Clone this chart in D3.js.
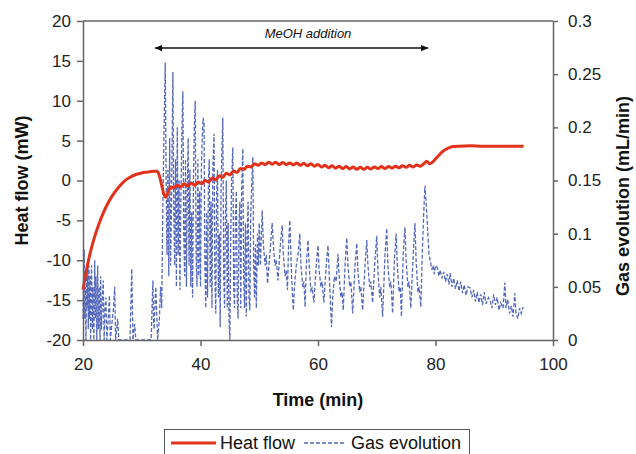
<!DOCTYPE html>
<html>
<head>
<meta charset="utf-8">
<script src="https://cdn.jsdelivr.net/npm/d3@7"></script>
<style>
  body { margin: 0; background: #fff; }
  svg { font-family: "Liberation Sans", Arial, sans-serif; }
  .axis path, .axis line { stroke: #666; stroke-width: 1.5; }
  .axis text { font-size: 17px; fill: #222; }
  .title { font-size: 18px; font-weight: bold; fill: #111; }
</style>
</head>
<body>
<div id="chart"></div>
<script>
var width = 636;
var height = 454;

// time (min), heat flow (mW)
var heatFlow = [
  [20,-13.7],[20.5,-11.6],[21,-9.8],[21.5,-8.3],[22,-7],[22.5,-5.9],[23,-4.9],[23.5,-4],[24,-3.2],
  [25,-1.9],[26,-0.9],[27,-0.1],[28,0.4],[29,0.75],[30,0.95],[31,1.05],[32,1.15],[32.6,1.15],
  [33,0.6],[33.4,-0.6],[33.8,-1.8],[34.1,-2.1],[34.5,-1.4],[35,-0.8],[35.5,-0.9],[36,-0.6],
  [36.6,-0.8],[37.2,-0.4],[37.8,-0.7],[38.4,-0.3],[39,-0.6],[39.6,-0.2],[40.2,-0.4],[40.8,0],
  [41.4,-0.2],[42,0.3],[42.6,0.1],[43.2,0.6],[43.8,0.4],[44.4,0.9],[45,0.7],[45.6,1.2],[46.2,1.0],
  [46.8,1.5],[47.4,1.4],[48,1.8],[48.6,1.7],[49.2,2.1],[49.8,1.9],[50.4,2.2],[51,2.0],[51.6,2.3],
  [52.2,2.05],[52.8,2.3],[53.4,2.0],[54,2.25],[54.6,2.0],[55.2,2.2],[55.8,1.95],[56.4,2.2],[57,1.9],
  [57.6,2.15],[58.2,1.85],[58.8,2.1],[59.4,1.8],[60,2.0],[60.6,1.7],[61.2,1.9],[61.8,1.6],[62.4,1.85],
  [63,1.55],[63.6,1.8],[64.2,1.5],[64.8,1.75],[65.4,1.45],[66,1.7],[66.6,1.4],[67.2,1.65],[67.8,1.4],
  [68.4,1.65],[69,1.45],[69.6,1.7],[70.2,1.5],[70.8,1.75],[71.4,1.5],[72,1.75],[72.6,1.55],[73.2,1.8],
  [73.8,1.6],[74.4,1.85],[75,1.65],[75.6,1.9],[76.2,1.7],[76.8,1.95],[77.4,1.8],[78,2.1],[78.5,2.4],
  [79,2.1],[79.5,2.3],[80,2.7],[80.5,3.1],[81,3.5],[81.5,3.8],[82,4.0],[82.5,4.15],[83,4.25],
  [84,4.3],[86,4.35],[88,4.3],[90,4.3],[92,4.3],[95,4.3]
];

// time (min), gas evolution (mL/min)
var gasEvolution = [
  [20.0,0.02],[20.1,0.06],[20.2,0.085],[20.3,0.02],[20.4,0.05],[20.5,0.0],[20.6,0.06],[20.7,0.03],
  [20.8,0.075],[20.9,0.01],[21.0,0.07],[21.1,0.02],[21.2,0.06],[21.3,0.0],[21.45,0.07],[21.6,0.01],
  [21.7,0.05],[21.85,0.0],[22.0,0.075],[22.1,0.02],[22.2,0.06],[22.35,0.0],[22.5,0.07],[22.6,0.01],
  [22.75,0.05],[22.9,0.0],[23.0,0.06],[23.15,0.01],[23.3,0.04],[23.45,0.056],[23.6,0.0],[23.75,0.03],
  [23.9,0.04],[24.05,0.0],[24.3,0.02],[24.5,0.042],[24.65,0.0],[25.0,0.02],[25.2,0.03],[25.4,0.05],
  [25.55,0.0],[25.9,0.02],[26.1,0.0],[28.0,0.0],[28.3,0.067],[28.5,0.0],[28.8,0.015],[29.0,0.0],
  [31.6,0.0],[31.8,0.04],[31.9,0.056],[32.0,0.02],[32.1,0.01],[32.3,0.04],[32.4,0.05],[32.7,0.0],
  [33.0,0.02],[33.2,0.05],[33.4,0.03],[33.6,0.13],[33.8,0.2],[34.0,0.261],[34.15,0.15],[34.3,0.08],
  [34.45,0.16],[34.6,0.06],[34.75,0.19],[34.9,0.07],[35.05,0.12],[35.2,0.2],[35.3,0.252],[35.45,0.12],
  [35.6,0.07],[35.75,0.17],[35.9,0.05],[36.05,0.2],[36.2,0.08],[36.35,0.15],[36.5,0.047],[36.65,0.13],
  [36.85,0.2],[37.0,0.234],[37.15,0.1],[37.3,0.06],[37.45,0.17],[37.6,0.05],[37.75,0.14],[37.9,0.19],
  [38.05,0.07],[38.2,0.16],[38.35,0.05],[38.5,0.12],[38.65,0.04],[38.8,0.15],[38.95,0.2],[39.1,0.225],
  [39.25,0.08],[39.4,0.05],[39.55,0.17],[39.7,0.06],[39.85,0.14],[40.0,0.05],[40.15,0.16],[40.3,0.19],
  [40.45,0.209],[40.6,0.204],[40.75,0.07],[40.9,0.03],[41.05,0.12],[41.2,0.04],[41.35,0.15],[41.5,0.17],
  [41.65,0.05],[41.8,0.13],[41.95,0.03],[42.1,0.16],[42.3,0.194],[42.45,0.06],[42.6,0.025],[42.75,0.14],
  [42.9,0.16],[43.05,0.04],[43.2,0.1],[43.35,0.012],[43.5,0.14],[43.65,0.18],[43.8,0.209],[43.95,0.06],
  [44.1,0.03],[44.25,0.12],[44.4,0.15],[44.55,0.03],[44.7,0.11],[44.85,0.02],[45.0,0.0],[45.15,0.1],
  [45.3,0.15],[45.5,0.181],[45.65,0.05],[45.8,0.03],[45.95,0.12],[46.1,0.14],[46.25,0.04],[46.4,0.02],
  [46.55,0.11],[46.7,0.13],[46.85,0.03],[47.0,0.14],[47.2,0.18],[47.35,0.06],[47.5,0.03],[47.65,0.11],
  [47.8,0.022],[47.95,0.1],[48.1,0.13],[48.25,0.04],[48.4,0.028],[48.55,0.12],[48.75,0.15],[48.9,0.172],
  [49.05,0.07],[49.2,0.04],[49.35,0.09],[49.5,0.03],[49.7,0.1],[49.85,0.07],[50.0,0.11],[50.2,0.07],
  [50.5,0.122],[50.7,0.09],[51.0,0.07],[51.2,0.08],[51.4,0.053],[51.8,0.08],[52.0,0.095],[52.2,0.11],
  [52.45,0.085],[52.7,0.07],[52.9,0.075],[53.2,0.056],[53.6,0.09],[53.9,0.108],[54.1,0.08],[54.4,0.06],
  [54.6,0.065],[54.8,0.047],[55.0,0.09],[55.2,0.1125],[55.5,0.06],[55.8,0.028],[56.0,0.05],[56.3,0.07],
  [56.6,0.08],[56.9,0.1],[57.1,0.07],[57.4,0.05],[57.6,0.055],[57.8,0.031],[58.0,0.07],[58.3,0.094],
  [58.5,0.07],[58.8,0.045],[59.0,0.05],[59.3,0.035],[59.7,0.07],[60.0,0.089],[60.2,0.065],[60.5,0.05],
  [60.7,0.055],[61.0,0.035],[61.4,0.07],[61.7,0.089],[62.0,0.05],[62.3,0.012],[62.5,0.04],[62.8,0.06],
  [63.1,0.055],[63.4,0.081],[63.6,0.06],[63.9,0.04],[64.1,0.045],[64.3,0.028],[64.6,0.07],[64.9,0.096],
  [65.1,0.07],[65.4,0.05],[65.6,0.055],[65.9,0.025],[66.3,0.07],[66.6,0.091],[66.8,0.065],[67.1,0.045],
  [67.3,0.05],[67.6,0.028],[68.0,0.07],[68.3,0.094],[68.5,0.07],[68.8,0.05],[69.0,0.055],[69.3,0.035],
  [69.7,0.075],[70.0,0.098],[70.2,0.065],[70.5,0.04],[70.7,0.05],[71.0,0.022],[71.4,0.08],[71.7,0.105],
  [71.9,0.07],[72.2,0.05],[72.4,0.055],[72.7,0.025],[73.0,0.075],[73.3,0.1],[73.5,0.07],[73.8,0.045],
  [74.0,0.05],[74.2,0.022],[74.5,0.08],[74.8,0.106],[75.0,0.075],[75.3,0.05],[75.5,0.055],[75.8,0.03],
  [76.2,0.08],[76.5,0.11],[76.7,0.075],[77.0,0.045],[77.2,0.05],[77.5,0.031],[77.8,0.09],[78.0,0.12],
  [78.2,0.145],[78.4,0.13],[78.6,0.11],[78.9,0.08],[79.2,0.072],[79.4,0.066],[79.6,0.07],[79.8,0.062],
  [80.0,0.07],[80.3,0.068],[80.6,0.06],[80.8,0.066],[81.1,0.058],[81.4,0.064],[81.7,0.055],[82.0,0.062],
  [82.3,0.052],[82.5,0.063],[82.8,0.05],[83.1,0.058],[83.4,0.048],[83.7,0.056],[84.0,0.046],[84.3,0.055],
  [84.6,0.044],[84.9,0.052],[85.2,0.042],[85.5,0.05],[85.9,0.049],[86.2,0.04],[86.5,0.047],[86.8,0.036],
  [87.1,0.045],[87.4,0.035],[87.7,0.043],[88.0,0.033],[88.3,0.045],[88.6,0.034],[89.0,0.04],[89.3,0.037],
  [89.6,0.03],[89.9,0.043],[90.2,0.033],[90.5,0.04],[90.8,0.028],[91.1,0.035],[91.5,0.03],[91.8,0.054],
  [92.0,0.03],[92.3,0.038],[92.6,0.025],[92.9,0.032],[93.2,0.022],[93.5,0.044],[93.7,0.025],[94.0,0.02],
  [94.3,0.03],[94.6,0.025],[94.9,0.031]
];

var xTicks = [20, 40, 60, 80, 100];
var heatTicks = [-20, -15, -10, -5, 0, 5, 10, 15, 20];
var gasTicks = [0, 0.05, 0.1, 0.15, 0.2, 0.25, 0.3];

// MeOH addition period (min) and label height (mW)
var meohStart = 32.3;
var meohEnd = 78.7;
var meohLevel = 16.6;

var legendItems = ["Heat flow", "Gas evolution"];

function drawChart() {

var plotLeft = 83, plotRight = 553, plotTop = 21, plotBottom = 340;

var xScale = d3.scaleLinear().domain([20, 100]).range([plotLeft, plotRight]);
var yHeat = d3.scaleLinear().domain([-20, 20]).range([plotBottom, plotTop]);
var yGas = d3.scaleLinear().domain([0, 0.3]).range([plotBottom, plotTop]);

var svg = d3.select("#chart")
            .append("svg")
            .attr("width", width)
            .attr("height", height);

svg.append("defs").append("marker")
   .attr("id", "arrow")
   .attr("viewBox", "0 0 10 10")
   .attr("refX", 9).attr("refY", 5)
   .attr("markerWidth", 8).attr("markerHeight", 8)
   .attr("markerUnits", "userSpaceOnUse")
   .attr("orient", "auto-start-reverse")
   .append("path")
   .attr("d", "M0,1 L10,5 L0,9 Z")
   .attr("fill", "#111");

// gas evolution (dashed blue)
var gasLine = d3.line()
                .x(function(d) { return xScale(d[0]); })
                .y(function(d) { return yGas(d[1]); });

svg.append("path")
   .datum(gasEvolution)
   .attr("d", gasLine)
   .attr("fill", "none")
   .attr("stroke", "#5468bd")
   .attr("stroke-width", 1.3)
   .attr("stroke-dasharray", "4,2");

// heat flow (red)
var heatLine = d3.line()
                 .curve(d3.curveMonotoneX)
                 .x(function(d) { return xScale(d[0]); })
                 .y(function(d) { return yHeat(d[1]); });

svg.append("path")
   .datum(heatFlow)
   .attr("d", heatLine)
   .attr("fill", "none")
   .attr("stroke", "#e3321c")
   .attr("stroke-width", 3);

// top frame line
svg.append("line")
   .attr("x1", plotLeft).attr("x2", plotRight)
   .attr("y1", plotTop).attr("y2", plotTop)
   .attr("stroke", "#666").attr("stroke-width", 1.5);

var fmt = function(d) { return String(d); };

svg.append("g")
   .attr("class", "axis")
   .attr("transform", "translate(0," + plotBottom + ")")
   .call(d3.axisBottom(xScale).tickValues(xTicks).tickSize(6).tickSizeOuter(0).tickPadding(12).tickFormat(fmt));

svg.append("g")
   .attr("class", "axis")
   .attr("transform", "translate(" + plotLeft + ",0)")
   .call(d3.axisLeft(yHeat).tickValues(heatTicks).tickSize(6).tickSizeOuter(0).tickPadding(6).tickFormat(fmt));

svg.append("g")
   .attr("class", "axis")
   .attr("transform", "translate(" + plotRight + ",0)")
   .call(d3.axisRight(yGas).tickValues(gasTicks).tickSize(5).tickSizeOuter(0).tickPadding(10).tickFormat(fmt));

// axis titles
svg.append("text")
   .attr("class", "title")
   .attr("text-anchor", "middle")
   .attr("x", (plotLeft + plotRight) / 2)
   .attr("y", 406)
   .text("Time (min)");

svg.append("text")
   .attr("class", "title")
   .attr("text-anchor", "middle")
   .attr("transform", "translate(28," + ((plotTop + plotBottom) / 2) + ") rotate(-90)")
   .text("Heat flow (mW)");

svg.append("text")
   .attr("class", "title")
   .attr("text-anchor", "middle")
   .attr("transform", "translate(629,196) rotate(-90)")
   .text("Gas evolution (mL/min)");

// MeOH addition arrow
svg.append("line")
   .attr("x1", xScale(meohStart)).attr("x2", xScale(meohEnd))
   .attr("y1", yHeat(meohLevel)).attr("y2", yHeat(meohLevel))
   .attr("stroke", "#111").attr("stroke-width", 1.5)
   .attr("marker-start", "url(#arrow)")
   .attr("marker-end", "url(#arrow)");

svg.append("text")
   .attr("x", 308)
   .attr("y", yHeat(meohLevel) - 10)
   .attr("text-anchor", "middle")
   .attr("font-size", 13)
   .attr("font-style", "italic")
   .attr("fill", "#111")
   .text("MeOH addition");

// legend
var legend = svg.append("g");
legend.append("rect")
   .attr("x", 164.5).attr("y", 429.5)
   .attr("width", 305).attr("height", 30)
   .attr("fill", "#fff").attr("stroke", "#555").attr("stroke-width", 1);

legend.append("line")
   .attr("x1", 171).attr("x2", 216).attr("y1", 443).attr("y2", 443)
   .attr("stroke", "#e3321c").attr("stroke-width", 3);
legend.append("line")
   .attr("x1", 304).attr("x2", 344).attr("y1", 443).attr("y2", 443)
   .attr("stroke", "#5468bd").attr("stroke-width", 1.3).attr("stroke-dasharray", "4,2");

legend.selectAll("text.leg")
   .data(legendItems)
   .enter().append("text")
   .attr("class", "leg")
   .attr("x", function(d, i) { return i === 0 ? 220 : 351; })
   .attr("y", 449)
   .attr("font-size", 18)
   .attr("fill", "#111")
   .text(function(d) { return d; });
}

drawChart();
</script>
</body>
</html>
